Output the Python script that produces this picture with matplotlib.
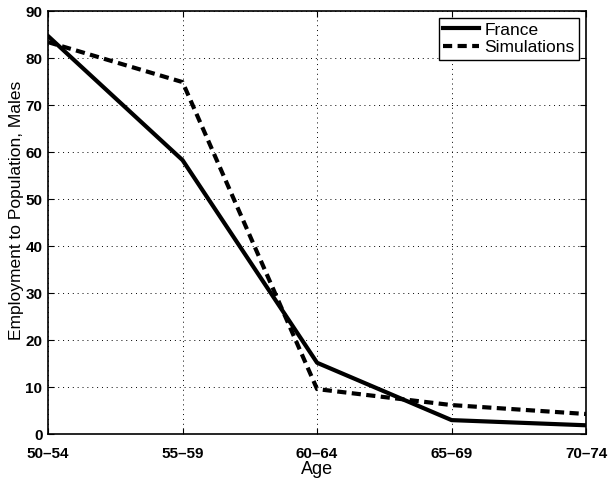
import matplotlib
matplotlib.use('Agg')
import matplotlib.pyplot as plt

plt.rcParams['font.family'] = ['Liberation Sans', 'DejaVu Sans']

ages = ['50\u201354', '55\u201359', '60\u201364', '65\u201369', '70\u201374']
france = [84.7, 58.3, 15.2, 3.0, 1.9]
simulations = [83.4, 74.9, 9.6, 6.2, 4.3]

fig = plt.figure(figsize=(6.08, 4.83), dpi=100)
ax = fig.add_axes([0.079, 0.101, 0.885, 0.876])

x = range(len(ages))
ax.plot(x, france, color='black', lw=3, label='France')
ax.plot(x, simulations, color='black', lw=3, ls=(0, (2.2, 1.3)), label='Simulations')

ax.set_xlim(0, len(ages) - 1)
ax.set_ylim(0, 90)
ax.set_xticks(list(x))
ax.set_xticklabels(ages)
ax.set_yticks(range(0, 91, 10))
ax.grid(True, color='black', ls=(0, (1, 4)), lw=0.7)
ax.tick_params(direction='in', labelsize=11, length=4, top=True, right=True)
ax.tick_params(axis='x', pad=9)
ax.tick_params(axis='y', pad=4)
for lbl in ax.get_xticklabels() + ax.get_yticklabels():
    lbl.set_fontweight('bold')
for s in ax.spines.values():
    s.set_linewidth(1.2)

ax.set_xlabel('Age', fontsize=13, labelpad=0)
ax.set_ylabel('Employment to Population, Males', fontsize=12.5)
ax.yaxis.set_label_coords(-0.045, 0.53)

leg = ax.legend(loc='upper right', fontsize=12.5, fancybox=False, framealpha=1,
                edgecolor='black', handlelength=2.1, borderaxespad=0.4,
                handletextpad=0.3, borderpad=0.25, labelspacing=0.15)
leg.get_frame().set_linewidth(1.0)

fig.savefig('out.png', dpi=100)
